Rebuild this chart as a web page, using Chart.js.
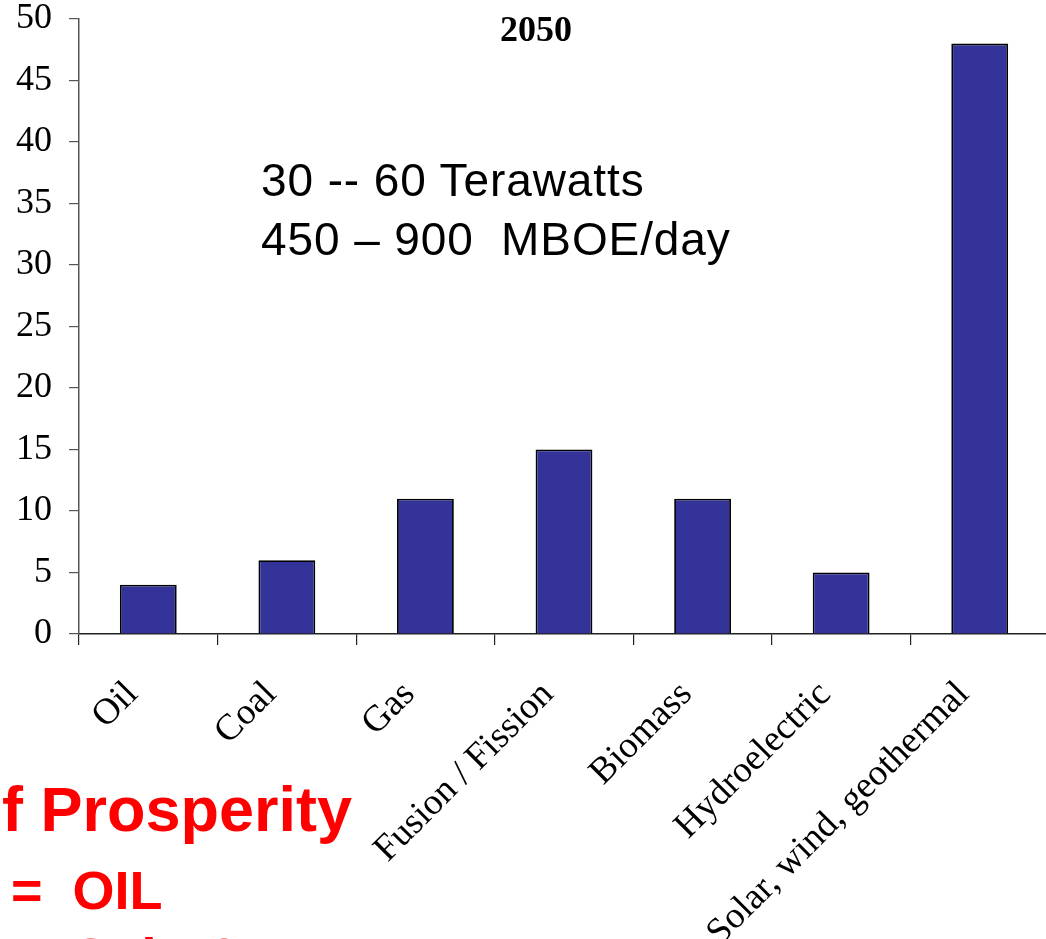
<!DOCTYPE html>
<html>
<head>
<meta charset="utf-8">
<script src="https://cdn.jsdelivr.net/npm/chart.js@4.4.1/dist/chart.umd.min.js"></script>
<style>
  html, body { margin: 0; padding: 0; background: #fff; overflow: hidden; width: 1046px; height: 939px; }
  #wrap { position: absolute; left: 0; top: 0; width: 1060px; height: 939px; }
  .note { position: absolute; font-family: "Liberation Sans", Arial, sans-serif; color: #000; white-space: pre; line-height: 1; font-size: 46px; letter-spacing: 0.9px; }
  .red { position: absolute; font-family: "Liberation Sans", Arial, sans-serif; font-weight: bold; color: #ff0000; white-space: pre; line-height: 1; }
</style>
</head>
<body>
<div id="wrap"><canvas id="c" width="1060" height="939"></canvas></div>
<div class="note" style="left:261px; top:157px;">30 -- 60 Terawatts</div>
<div class="note" style="left:261px; top:216px;">450 – 900  MBOE/day</div>
<div class="red" style="left:2px; top:778px; font-size:63px;">f Prosperity</div>
<div class="red" style="left:11px; top:863px; font-size:54px;">=  OIL</div>
<div class="red" style="left:11px; top:930px; font-size:54px;">=  Solar?</div>
<script>
const categories = ["Oil", "Coal", "Gas", "Fusion / Fission", "Biomass", "Hydroelectric", "Solar, wind, geothermal"];
const values = [4, 6, 11, 15, 11, 5, 48];
const yTicks = [0, 5, 10, 15, 20, 25, 30, 35, 40, 45, 50];
const chartTitle = "2050";

const titlePlugin = {
  id: 'fixedTitle',
  afterDraw(chart) {
    const ctx = chart.ctx;
    ctx.save();
    ctx.font = 'bold 36px "Liberation Serif", "Times New Roman", serif';
    ctx.fillStyle = '#000';
    ctx.textAlign = 'center';
    ctx.textBaseline = 'alphabetic';
    ctx.fillText(chartTitle, 536, 41);
    ctx.restore();
  }
};

new Chart(document.getElementById('c'), {
  type: 'bar',
  data: {
    labels: categories,
    datasets: [{
      data: values,
      backgroundColor: '#333399',
      borderColor: '#000000',
      borderWidth: 1.8,
      barPercentage: 0.41,
      categoryPercentage: 1.0
    }]
  },
  options: {
    responsive: false,
    devicePixelRatio: 1,
    animation: false,
    layout: { padding: { top: 19, right: 11, left: 0, bottom: 0 } },
    plugins: { legend: { display: false }, tooltip: { enabled: false }, title: { display: false } },
    scales: {
      x: {
        offset: true,
        grid: { offset: true, drawOnChartArea: false, drawTicks: true, tickLength: 11, color: '#222', lineWidth: 1.2 },
        border: { display: true, color: '#222', width: 1.5 },
        ticks: {
          autoSkip: false, maxRotation: 45, minRotation: 45, padding: 28, labelOffset: -16,
          color: '#000',
          font: { family: '"Liberation Serif", "Times New Roman", serif', size: 37, lineHeight: 1.2 }
        },
        afterFit(scale) { scale.height = 305; }
      },
      y: {
        min: 0, max: 50,
        afterBuildTicks(scale) { scale.ticks = yTicks.map(v => ({ value: v })); },
        grid: { drawOnChartArea: false, drawTicks: true, tickLength: 10, color: '#555', lineWidth: 1.2 },
        border: { display: true, color: '#555', width: 1.5 },
        ticks: {
          padding: 17,
          color: '#000',
          font: { family: '"Liberation Serif", "Times New Roman", serif', size: 36, lineHeight: 1 }
        },
        afterFit(scale) { scale.width = 79; scale.paddingTop = 0; scale.paddingBottom = 0; }
      }
    }
  },
  plugins: [titlePlugin]
});
</script>
</body>
</html>
